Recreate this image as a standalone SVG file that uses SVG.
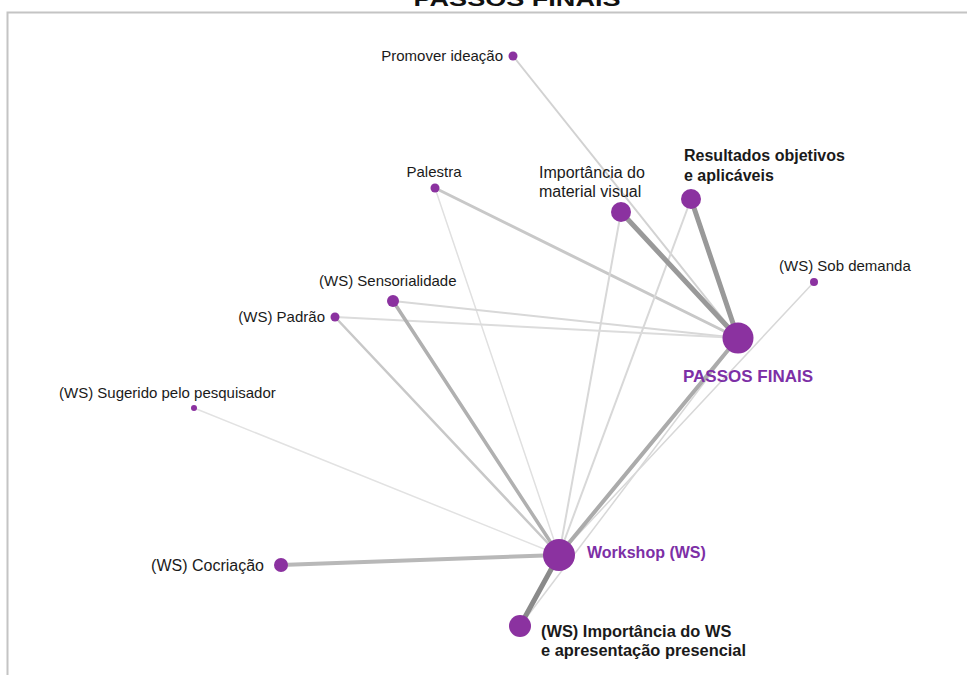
<svg xmlns="http://www.w3.org/2000/svg" width="967" height="675" viewBox="0 0 967 675">
  <style>
    .node { fill: #8b32a0; }
    .lbl { font-family: "Liberation Sans", Arial, sans-serif; font-size: 15px; fill: #1a1a1a; }
    .lbl-m { font-family: "Liberation Sans", Arial, sans-serif; font-size: 16px; fill: #1a1a1a; }
    .lbl-b { font-family: "Liberation Sans", Arial, sans-serif; font-size: 16px; font-weight: bold; fill: #1a1a1a; }
    .lbl-hub { font-family: "Liberation Sans", Arial, sans-serif; font-size: 16px; font-weight: bold; fill: #7d2fa6; }
    .edge { stroke-linecap: round; fill: none; }
  </style>
  <rect width="967" height="675" fill="#ffffff"/>

  <!-- chart title, clipped by the top edge -->
  <text x="517" y="6" text-anchor="middle" font-family="Liberation Sans, Arial, sans-serif" font-size="20" font-weight="bold" fill="#111" textLength="207" lengthAdjust="spacingAndGlyphs">PASSOS FINAIS</text>

  <!-- plot frame -->
  <path d="M7.5 675 V12.5 H967" fill="none" stroke="#c4c4c4" stroke-width="2"/>

  <!-- connectors -->
  <g id="connectors" class="edge">
    <line x1="513" y1="56" x2="738" y2="338" stroke="#d2d2d2" stroke-width="2"/>
    <line x1="435" y1="188" x2="738" y2="338" stroke="#c8c8c8" stroke-width="3"/>
    <line x1="435" y1="188" x2="559" y2="555" stroke="#e0e0e0" stroke-width="1.5"/>
    <line x1="621" y1="212" x2="559" y2="555" stroke="#d8d8d8" stroke-width="2"/>
    <line x1="691" y1="199" x2="559" y2="555" stroke="#d8d8d8" stroke-width="2"/>
    <line x1="814" y1="282" x2="559" y2="555" stroke="#d8d8d8" stroke-width="1.5"/>
    <line x1="393" y1="301" x2="738" y2="338" stroke="#d8d8d8" stroke-width="2"/>
    <line x1="335" y1="317" x2="738" y2="338" stroke="#dcdcdc" stroke-width="2"/>
    <line x1="335" y1="317" x2="559" y2="555" stroke="#c8c8c8" stroke-width="2.5"/>
    <line x1="393" y1="301" x2="559" y2="555" stroke="#b0b0b0" stroke-width="3.5"/>
    <line x1="194" y1="408" x2="559" y2="555" stroke="#e2e2e2" stroke-width="1.5"/>
    <line x1="281" y1="565" x2="559" y2="555" stroke="#b8b8b8" stroke-width="4"/>
    <line x1="520" y1="626" x2="738" y2="338" stroke="#d8d8d8" stroke-width="1.5"/>
    <line x1="559" y1="555" x2="738" y2="338" stroke="#ababab" stroke-width="4"/>
    <line x1="621" y1="212" x2="738" y2="338" stroke="#999999" stroke-width="5"/>
    <line x1="691" y1="199" x2="738" y2="338" stroke="#999999" stroke-width="5"/>
    <line x1="520" y1="626" x2="559" y2="555" stroke="#8a8a8a" stroke-width="5"/>
  </g>

  <!-- nodes -->
  <g id="promover-ideacao">
    <circle class="node" cx="513" cy="56" r="4.5"/>
    <text class="lbl" x="503" y="61" text-anchor="end">Promover ideação</text>
  </g>
  <g id="palestra">
    <circle class="node" cx="435" cy="188" r="4.5"/>
    <text class="lbl" x="434" y="177" text-anchor="middle">Palestra</text>
  </g>
  <g id="importancia-material-visual">
    <circle class="node" cx="621" cy="212" r="10"/>
    <text class="lbl-m" x="539" y="178">Importância do</text>
    <text class="lbl-m" x="539" y="197">material visual</text>
  </g>
  <g id="resultados-objetivos">
    <circle class="node" cx="691" cy="199" r="10"/>
    <text class="lbl-b" x="684" y="161">Resultados objetivos</text>
    <text class="lbl-b" x="684" y="181">e aplicáveis</text>
  </g>
  <g id="ws-sob-demanda">
    <circle class="node" cx="814" cy="282" r="4"/>
    <text class="lbl" x="779" y="271">(WS) Sob demanda</text>
  </g>
  <g id="passos-finais">
    <circle class="node" cx="738" cy="338" r="15.5"/>
    <text class="lbl-hub" x="683" y="382" style="font-size:17px">PASSOS FINAIS</text>
  </g>
  <g id="ws-sensorialidade">
    <circle class="node" cx="393" cy="301" r="6"/>
    <text class="lbl" x="319" y="286">(WS) Sensorialidade</text>
  </g>
  <g id="ws-padrao">
    <circle class="node" cx="335" cy="317" r="4.5"/>
    <text class="lbl" x="325" y="322" text-anchor="end">(WS) Padrão</text>
  </g>
  <g id="ws-sugerido">
    <circle class="node" cx="194" cy="408" r="3"/>
    <text class="lbl" x="59" y="398">(WS) Sugerido pelo pesquisador</text>
  </g>
  <g id="ws-cocriacao">
    <circle class="node" cx="281" cy="565" r="7"/>
    <text class="lbl-m" x="264" y="571" text-anchor="end">(WS) Cocriação</text>
  </g>
  <g id="workshop">
    <circle class="node" cx="559" cy="555" r="16"/>
    <text class="lbl-hub" x="587" y="558">Workshop (WS)</text>
  </g>
  <g id="ws-importancia">
    <circle class="node" cx="520" cy="626" r="11"/>
    <text class="lbl-b" x="541" y="637" style="font-size:16.4px">(WS) Importância do WS</text>
    <text class="lbl-b" x="541" y="656" style="font-size:16.4px">e apresentação presencial</text>
  </g>
</svg>
